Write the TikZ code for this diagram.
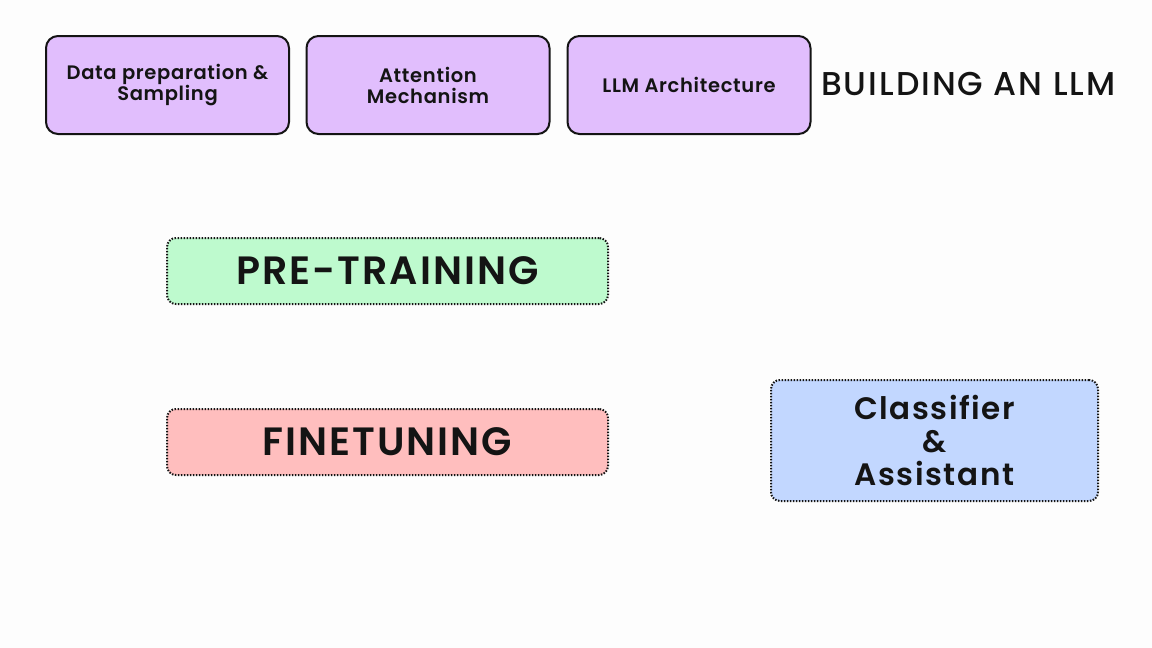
\documentclass[tikz,border=0pt]{standalone}
\usepackage{fontspec}
\setmainfont{Poppins}
\newfontfamily\boxfont[LetterSpace=3.5]{Poppins SemiBold}
\newfontfamily\bigfont[LetterSpace=5]{Poppins SemiBold}
\newfontfamily\titlefont[LetterSpace=6]{Poppins Medium}
\definecolor{bgc}{RGB}{253,253,253}
\definecolor{purp}{RGB}{225,190,253}
\definecolor{grn}{RGB}{190,250,206}
\definecolor{pnk}{RGB}{255,190,190}
\definecolor{blu}{RGB}{194,215,255}
\definecolor{ink}{RGB}{20,20,20}
\tikzset{
  topbox/.style={draw=ink, line width=2pt, fill=purp, rounded corners=12pt, minimum width=243pt, minimum height=98pt, align=center, font=\boxfont\fontsize{19.5}{21}\selectfont, text=ink, inner sep=0pt},
  dotbox/.style={draw=ink, line width=2pt, dash pattern=on 1.5pt off 1.5pt, rounded corners=9pt, align=center, text=ink, inner sep=0pt},
}
\begin{document}
\begin{tikzpicture}[x=1pt,y=-1pt]
\useasboundingbox[fill=bgc] (0,0) rectangle (1152,648);
\node[topbox] (data) at (167.5,85) {Data preparation \&\\Sampling};
\node[topbox] (att) at (428,85) {Attention\\Mechanism};
\node[topbox] (arch) at (689,85) {LLM Architecture};
\node[anchor=west, font=\titlefont\fontsize{33}{36}\selectfont, text=ink, inner sep=0pt] (title) at (821,84) {BUILDING AN LLM};
\node[dotbox, fill=grn, minimum width=441pt, minimum height=66pt, font=\bigfont\fontsize{39.5}{40}\selectfont] (pre) at (387.5,271) {PRE-TRAINING};
\node[dotbox, fill=pnk, minimum width=441pt, minimum height=66pt, font=\bigfont\fontsize{39.5}{40}\selectfont] (fine) at (387.5,442) {FINETUNING};
\node[dotbox, fill=blu, minimum width=327pt, minimum height=121pt, font=\bigfont\fontsize{31}{33}\selectfont] (cls) at (934.5,440.5) {Classifier\\\&\\Assistant};
\end{tikzpicture}
\end{document}
